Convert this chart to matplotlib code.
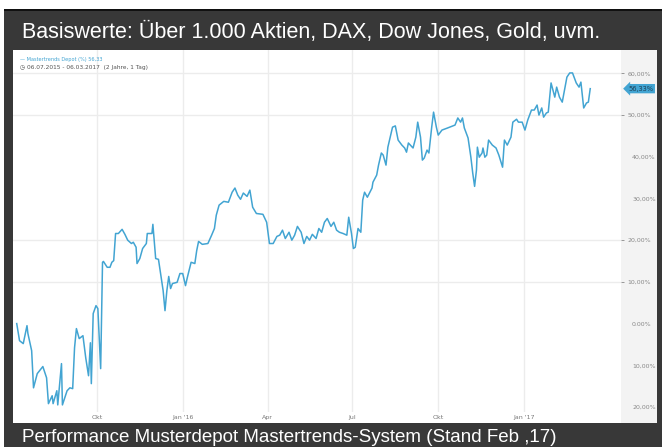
import numpy as np
import pandas as pd
import matplotlib
matplotlib.use("Agg")
import matplotlib.pyplot as plt
import matplotlib.dates as mdates
from matplotlib.patches import Rectangle

# Depot performance in %, days counted from 06.07.2015
start = pd.Timestamp("2015-07-06")
days = [1, 4, 8, 12, 13, 17, 19, 23, 28, 29, 33, 35, 39, 40, 44, 45, 49, 50, 55, 58,
        61, 63, 65, 68, 72, 75, 78, 80, 81, 83, 86, 88, 91, 93, 94, 98, 101, 103, 105, 107,
        110, 114, 117, 120, 124, 126, 129, 130, 133, 136, 140, 141, 146, 147, 150, 153, 158, 160, 162, 164,
        166, 168, 173, 176, 179, 182, 184, 188, 192, 194, 196, 200, 206, 210, 213, 215, 218, 223, 228, 232,
        235, 238, 241, 244, 248, 251, 254, 258, 265, 269, 272, 276, 280, 283, 286, 289, 293, 296, 299, 302,
        306, 309, 312, 315, 318, 322, 325, 328, 331, 334, 338, 341, 344, 347, 351, 355, 357, 360, 362, 364,
        367, 370, 372, 374, 377, 382, 383, 387, 389, 392, 394, 397, 399, 404, 407, 410, 414, 417, 419, 421,
        426, 429, 431, 434, 436, 438, 441, 443, 446, 448, 451, 453, 457, 463, 471, 474, 477, 479, 481, 485,
        488, 490, 492, 494, 495, 497, 500, 501, 503, 505, 507, 511, 515, 518, 522, 524, 527, 531, 533, 537,
        539, 543, 546, 549, 553, 556, 559, 561, 564, 566, 569, 571, 574, 576, 578, 580, 583, 586, 589, 591,
        594, 597, 601, 604, 606, 609, 612, 614, 616]
perf = [0.0, -4.1, -4.8, -0.5, -2.4, -6.5, -15.4, -12.0, -10.6, -10.3, -13.0, -19.2, -17.3, -19.2, -16.1, -19.5, -9.6, -19.5, -16.1, -15.4,
        -15.6, -5.8, -1.2, -3.6, -2.9, -8.2, -12.5, -4.6, -14.4, 2.4, 4.3, 3.6, -10.8, 14.7, 14.9, 13.5, 13.5, 14.7, 15.1, 21.6,
        21.6, 22.6, 21.4, 20.0, 19.2, 19.5, 18.3, 14.4, 15.6, 18.0, 19.2, 21.6, 21.6, 23.8, 15.6, 15.4, 7.9, 3.1, 7.9, 11.3,
        8.4, 9.6, 9.9, 12.0, 12.0, 9.1, 11.1, 14.7, 14.4, 17.5, 19.7, 19.0, 19.2, 21.2, 22.8, 26.0, 28.4, 29.3, 29.1, 31.5,
        32.5, 30.8, 29.8, 31.3, 30.5, 32.0, 27.9, 26.4, 26.2, 24.3, 19.2, 19.2, 20.9, 21.2, 22.4, 20.4, 21.9, 20.0, 21.2, 23.3,
        21.9, 19.2, 20.9, 20.0, 21.4, 20.4, 22.8, 21.9, 24.3, 25.2, 23.3, 24.3, 22.4, 21.9, 21.6, 21.2, 25.5, 21.6, 18.0, 18.3,
        22.8, 21.9, 29.6, 31.5, 30.3, 32.5, 33.9, 35.6, 38.0, 40.9, 40.4, 38.0, 42.3, 47.1, 47.4, 44.0, 42.8, 42.1, 41.1, 43.3,
        42.1, 44.7, 48.3, 44.7, 39.2, 39.7, 41.6, 40.9, 47.1, 50.7, 47.1, 45.2, 46.4, 46.9, 47.6, 49.3, 48.3, 49.3, 46.9, 44.5,
        39.9, 36.1, 32.9, 36.8, 42.3, 39.9, 40.9, 42.1, 39.9, 40.4, 44.0, 42.8, 42.1, 40.4, 37.5, 44.0, 42.8, 44.7, 48.3, 49.0,
        48.3, 48.3, 46.4, 48.8, 51.2, 51.2, 52.4, 50.0, 51.7, 49.5, 50.5, 50.7, 57.7, 56.0, 54.3, 56.7, 54.3, 53.1, 56.7, 59.1,
        60.1, 60.1, 57.7, 56.7, 57.9, 51.7, 52.9, 53.1, 56.33]

x_ticks = ["2015-10-01", "2016-01-01", "2016-04-01", "2016-07-01", "2016-10-01", "2017-01-01"]
x_labels = ["Okt", "Jan '16", "Apr", "Jul", "Okt", "Jan '17"]
y_ticks = [60, 50, 40, 30, 20, 10, 0, -10, -20]
y_labels = ["60,00%", "50,00%", "40,00%", "30,00%", "20,00%", "10,00%", "0.00%", "10,00%", "20,00%"]
grid_levels = [60, 50, 20, 10]

title = "Basiswerte: Über 1.000 Aktien, DAX, Dow Jones, Gold, uvm."
footer = "Performance Musterdepot Mastertrends-System (Stand Feb ,17)"
last_value = "56,33"

W, H = 662, 447
blue = "#42a4d2"
dark = "#383838"

fig = plt.figure(figsize=(W / 100, H / 100), dpi=100)
fig.patch.set_facecolor("white")

def px_rect(x0, y0, x1, y1, **kw):
    fig.patches.append(Rectangle((x0 / W, 1 - y1 / H), (x1 - x0) / W, (y1 - y0) / H,
                                 transform=fig.transFigure, figure=fig, zorder=-10, **kw))

# dark frame, white chart area, grey axis panel
px_rect(4, 9, 662, 447, facecolor=dark, edgecolor="none")
px_rect(4, 9, 662, 10.5, facecolor="#111111", edgecolor="none")
px_rect(13, 50, 657, 423, facecolor="white", edgecolor="none")
px_rect(621, 50, 657, 423, facecolor="#f3f3f3", edgecolor="none")

fig.text(22 / W, 1 - 32 / H, title, color="white", fontsize=15.5, va="center", ha="left",
         family="Liberation Sans")
fig.text(22 / W, 1 - 438 / H, footer, color="white", fontsize=13.5, va="center", ha="left",
         family="Liberation Sans")

ax = fig.add_axes([13 / W, 1 - 412 / H, (621 - 13) / W, (412 - 50) / H], zorder=1)
ax.set_facecolor("none")
dates = start + pd.to_timedelta(days, unit="D")
ax.plot(dates, perf, color=blue, linewidth=1.1, zorder=3)

ax.set_xlim(start - pd.Timedelta(days=3), start + pd.Timedelta(days=649))
ax.set_ylim(-21.2, 65.6)

for s in ax.spines.values():
    s.set_visible(False)

ax.set_xticks(pd.to_datetime(x_ticks))
ax.set_xticklabels(x_labels)
ax.tick_params(axis="x", length=0, labelsize=4.5, labelcolor="#777777", pad=2)
for t in pd.to_datetime(x_ticks):
    ax.axvline(t, color="#ececec", linewidth=1, zorder=1)
for g in grid_levels:
    ax.axhline(g, color="#ececec", linewidth=1, zorder=1)

ax.yaxis.tick_right()
ax.set_yticks(y_ticks)
ax.set_yticklabels(y_labels)
ax.tick_params(axis="y", length=2.5, width=0.6, color="#888888", labelsize=4.5,
               labelcolor="#888888", pad=2)
for v, tk in zip(y_ticks, ax.yaxis.get_major_ticks()):
    if v not in grid_levels:
        tk.tick2line.set_visible(False)
        tk.set_pad(5.5)

# last value flag
ax.text(1.012, 56.33, last_value + "%", transform=ax.get_yaxis_transform(), fontsize=4.8,
        color="#1d3f55", va="center", ha="left", zorder=5,
        bbox=dict(boxstyle="larrow,pad=0.25", facecolor=blue, edgecolor="none"))

# legend lines at top left
ax.text(0.011, 0.975, "— Mastertrends Depot (%) " + last_value, transform=ax.transAxes,
        fontsize=3.6, color=blue, va="center", ha="left")
ax.text(0.011, 0.952, "◷ 06.07.2015 - 06.03.2017  (2 Jahre, 1 Tag)", transform=ax.transAxes,
        fontsize=4.2, color="#555555", va="center", ha="left")

fig.savefig("out.png", dpi=100)
